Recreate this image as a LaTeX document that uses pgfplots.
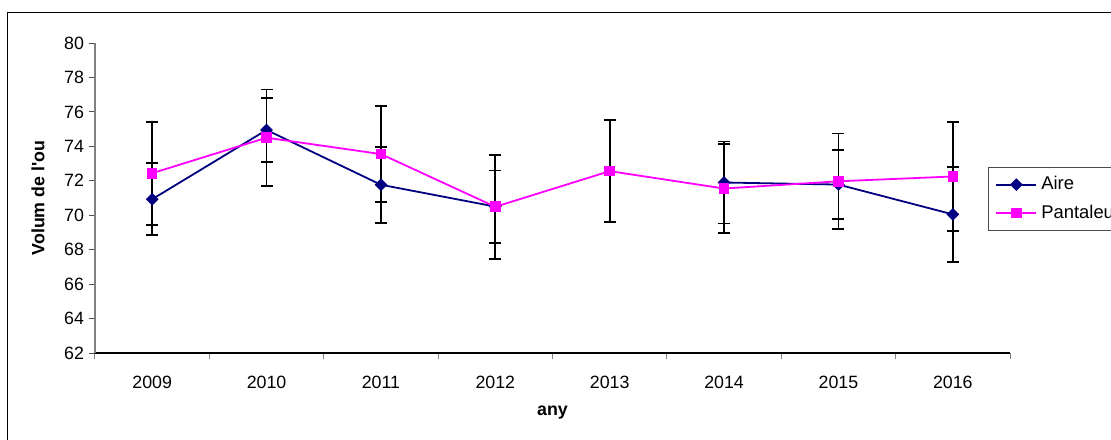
\documentclass[border=0pt]{standalone}
\usepackage{pgfplots}
\pgfplotsset{compat=1.18}
\usepackage{fontspec}
\setmainfont{Liberation Sans}
\definecolor{navyc}{RGB}{0,0,128}
\definecolor{magc}{RGB}{255,0,255}

\begin{document}
\begin{tikzpicture}[font=\fontsize{8.9}{10.7}\selectfont]
\begin{axis}[
  at={(0,0)}, anchor=south west,
  scale only axis, width=457.5pt, height=155pt,
  xmin=0.5, xmax=8.5, ymin=62, ymax=80,
  axis x line*=bottom, axis y line*=left,
  x axis line style={black, line width=0.6pt},
  y axis line style={gray, line width=0.6pt},
  tick align=outside, major tick length=3pt,
  ytick={62,64,...,80},
  ytick style={black!70, line width=0.5pt},
  xtick={0.5,1.5,2.5,3.5,4.5,5.5,6.5,7.5,8.5},
  xticklabels={},
  xtick style={gray, line width=0.5pt},
  extra x ticks={1,2,3,4,5,6,7,8},
  extra x tick labels={2009,2010,2011,2012,2013,2014,2015,2016},
  extra x tick style={xtick style={draw=none}},
  xticklabel style={yshift=-5pt},
  /pgf/number format/assume math mode=true,
  yticklabel style={/pgf/number format/fixed, xshift=1pt},
  xlabel={\bfseries any},
  ylabel={\bfseries Volum de l\textquotesingle ou},
  every axis x label/.style={at={(axis description cs:0.5,-0.1935)}, anchor=center},
  every axis y label/.style={at={(axis description cs:-0.0623,0.5)}, rotate=90, anchor=center},
  unbounded coords=jump,
  legend style={at={(axis description cs:0.976,0.6)}, anchor=north west,
    draw=black!70, line width=0.5pt, inner xsep=3.5pt, inner ysep=2.5pt,
    row sep=2pt, font=\fontsize{9.2}{10.7}\selectfont},
  legend cell align=left,
  legend image code/.code={\draw[mark repeat=2, mark phase=2, #1] plot coordinates {(0pt,0pt) (10pt,0pt) (20pt,0pt)};},
  clip=false,
]
\addplot[navyc, line width=0.9pt, mark=square*, mark size=1.8pt,
  mark options={rotate=45, solid, fill=navyc, draw=navyc},
  error bars/.cd, y dir=both, y explicit,
  error bar style={black, line width=0.9pt},
  error mark options={black, mark size=3pt, line width=0.9pt, rotate=90}]
  table[x=x, y=y, y error=e] {
x y e
1 70.93 2.08
2 74.95 1.86
3 71.77 2.20
4 70.50 2.10
5 nan nan
6 71.90 2.38
7 71.78 2.00
8 70.05 2.77
};
\addlegendentry{Aire}
\addplot[magc, line width=0.9pt, mark=square*, mark size=2.2pt,
  mark options={solid, fill=magc, draw=magc},
  error bars/.cd, y dir=both, y explicit,
  error bar style={black, line width=0.9pt},
  error mark options={black, mark size=3pt, line width=0.9pt, rotate=90}]
  table[x=x, y=y, y error=e] {
x y e
1 72.44 2.99
2 74.50 2.80
3 73.55 2.80
4 70.49 3.03
5 72.56 2.95
6 71.55 2.60
7 71.97 2.77
8 72.25 3.17
};
\addlegendentry{Pantaleu}
\end{axis}
\draw[black, line width=0.5pt] (-43.5pt,-60pt) rectangle (530pt,170pt);
\pgfresetboundingbox
\useasboundingbox (-47.5pt,-43pt) rectangle (508pt,176.5pt);
\end{tikzpicture}
\end{document}
